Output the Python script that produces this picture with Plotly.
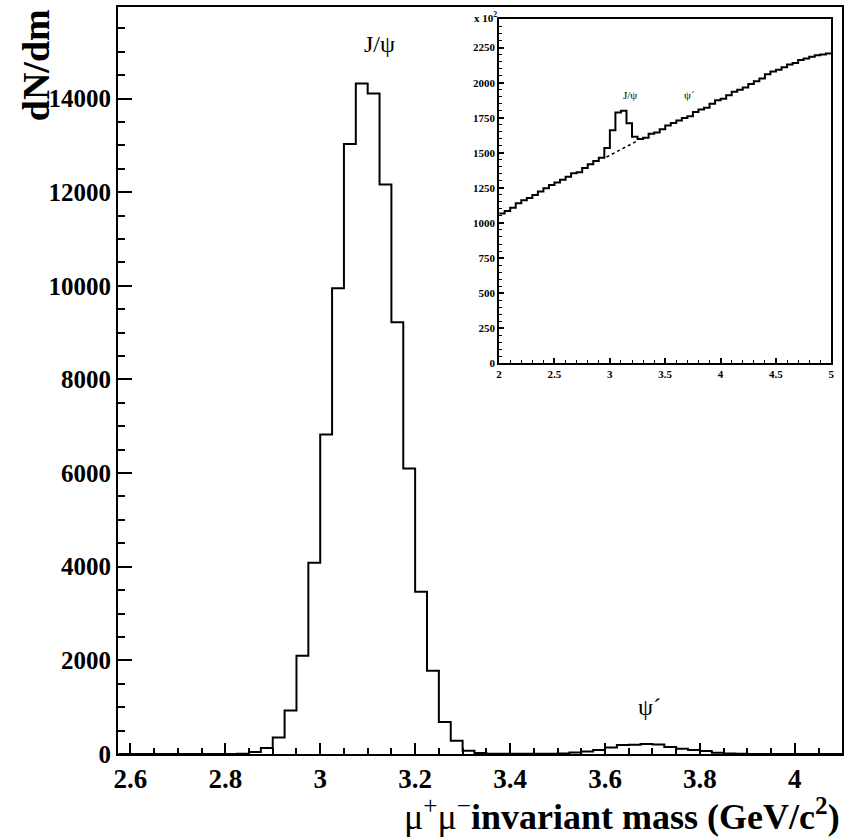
import plotly.graph_objects as go

# ---------------- data ----------------
main_start = 2.575
main_width = 0.025
main_counts = [
    0, 0, 0, 0, 0, 0, 0, 0, 0, 0,
    3, 43, 128, 354, 930, 2096, 4085, 6823, 9949, 13028,
    14320, 14107, 12166, 9224, 6098, 3467, 1776, 682, 284, 70,
    21, 8, 5, 3, 3, 4, 6, 12, 34, 55,
    85, 141, 191, 195, 213, 205, 149, 113, 85, 64,
    28, 13, 5, 2, 0, 0, 0, 0, 0, 0, 0,
]

inset_start = 2.0
inset_width = 0.05
inset_counts = [
    1068, 1085, 1108, 1140, 1162, 1178, 1200, 1225, 1248, 1270,
    1288, 1308, 1330, 1355, 1362, 1392, 1418, 1442, 1465, 1535,
    1660, 1788, 1800, 1710, 1615, 1598, 1608, 1636, 1645, 1668,
    1695, 1712, 1730, 1748, 1760, 1790, 1808, 1822, 1850, 1875,
    1885, 1910, 1935, 1950, 1965, 1990, 2010, 2030, 2060, 2080,
    2092, 2110, 2130, 2140, 2162, 2172, 2185, 2195, 2200, 2208,
]

bg_x = [2.97, 3.255]
bg_y = [1470, 1588]


def step_xy(start, width, counts):
    edges = [start + i * width for i in range(len(counts) + 1)]
    ys = list(counts) + [counts[-1]]
    return edges, ys


mx, my = step_xy(main_start, main_width, main_counts)
ix, iy = step_xy(inset_start, inset_width, inset_counts)

SERIF = "Liberation Serif"

fig = go.Figure()
fig.add_trace(go.Scatter(x=mx, y=my, mode="lines", line=dict(shape="hv", color="black", width=2),
                         xaxis="x", yaxis="y", hoverinfo="skip"))
fig.add_trace(go.Scatter(x=ix, y=iy, mode="lines", line=dict(shape="hv", color="black", width=2),
                         xaxis="x2", yaxis="y2", hoverinfo="skip"))
fig.add_trace(go.Scatter(x=bg_x, y=bg_y, mode="lines", line=dict(color="black", width=1.5, dash="dot"),
                         xaxis="x2", yaxis="y2", hoverinfo="skip"))

x_tick_font = dict(family=SERIF, size=27, color="black", weight=700)
y_tick_font = dict(family=SERIF, size=25, color="black", weight=700)
inset_tick_font = dict(family=SERIF, size=11, color="black", weight=700)

fig.update_layout(
    width=850, height=838,
    margin=dict(l=118, r=5, t=6, b=84),
    paper_bgcolor="white", plot_bgcolor="white",
    font=dict(family=SERIF, color="black"),
    showlegend=False,
    xaxis=dict(
        range=[2.574, 4.0993], tickmode="linear", tick0=2.6, dtick=0.2,
        ticks="inside", ticklen=11, tickwidth=2, tickcolor="black",
        showline=True, linewidth=2, linecolor="black", mirror=True,
        showgrid=False, zeroline=False, tickfont=x_tick_font,
        minor=dict(ticks="inside", ticklen=6, tickwidth=1.5, tickcolor="black",
                   tick0=2.6, dtick=0.05, showgrid=False),
    ),
    yaxis=dict(
        range=[0, 15955], tickmode="linear", tick0=0, dtick=2000,
        exponentformat="none", separatethousands=False, tickformat="d",
        ticks="inside", ticklen=14, tickwidth=2, tickcolor="black",
        showline=True, linewidth=2, linecolor="black", mirror=True,
        showgrid=False, zeroline=False, tickfont=y_tick_font,
        minor=dict(ticks="inside", ticklen=7, tickwidth=1.5, tickcolor="black",
                   tick0=0, dtick=500, showgrid=False),
    ),
    xaxis2=dict(
        domain=[0.5264, 0.9853], anchor="y2",
        range=[2, 5], tickmode="linear", tick0=2, dtick=0.5,
        ticks="inside", ticklen=5, tickwidth=1.5, tickcolor="black",
        showline=True, linewidth=1.8, linecolor="black", mirror=True,
        showgrid=False, zeroline=False, tickfont=inset_tick_font,
        minor=dict(ticks="inside", ticklen=3, tickwidth=1.2, tickcolor="black",
                   tick0=2, dtick=0.1, showgrid=False),
    ),
    yaxis2=dict(
        domain=[0.5231, 0.9836], anchor="x2",
        range=[0, 2452], tickmode="linear", tick0=0, dtick=250, tickformat="d",
        ticks="inside", ticklen=5, tickwidth=1.5, tickcolor="black",
        showline=True, linewidth=1.8, linecolor="black", mirror=True,
        showgrid=False, zeroline=False, tickfont=inset_tick_font,
        minor=dict(ticks="inside", ticklen=3, tickwidth=1.2, tickcolor="black",
                   tick0=0, dtick=50, showgrid=False),
    ),
)

annotations = [
    dict(text="<b>dN/dm</b>", xref="paper", yref="paper", x=-0.1128, y=0.9225,
         xanchor="center", yanchor="middle", textangle=-90, showarrow=False,
         font=dict(family=SERIF, size=38, color="black")),
    dict(text="μ<sup>+</sup>μ<sup>−</sup><b>invariant mass (GeV/c<sup>2</sup>)</b>",
         xref="paper", yref="paper", x=1.0, y=-0.0816,
         xanchor="right", yanchor="middle", showarrow=False,
         font=dict(family=SERIF, size=36, color="black")),
    dict(text="J/ψ", xref="x", yref="y", x=3.125, y=15170, showarrow=False,
         xanchor="center", yanchor="middle", font=dict(family=SERIF, size=24, color="black")),
    dict(text="ψ´", xref="x", yref="y", x=3.694, y=1000, showarrow=False,
         xanchor="center", yanchor="middle", font=dict(family=SERIF, size=24, color="black")),
    dict(text="J/ψ", xref="x2", yref="y2", x=3.18, y=1914, showarrow=False,
         xanchor="center", yanchor="middle", font=dict(family=SERIF, size=11, color="black")),
    dict(text="ψ´", xref="x2", yref="y2", x=3.72, y=1914, showarrow=False,
         xanchor="center", yanchor="middle", font=dict(family=SERIF, size=11, color="black")),
    dict(text="<b>x 10<sup>2</sup></b>", xref="paper", yref="paper", x=0.4883, y=0.986,
         xanchor="left", yanchor="middle", showarrow=False,
         font=dict(family=SERIF, size=11, color="black")),
]
fig.update_layout(annotations=annotations)

fig.write_html("out.html")
